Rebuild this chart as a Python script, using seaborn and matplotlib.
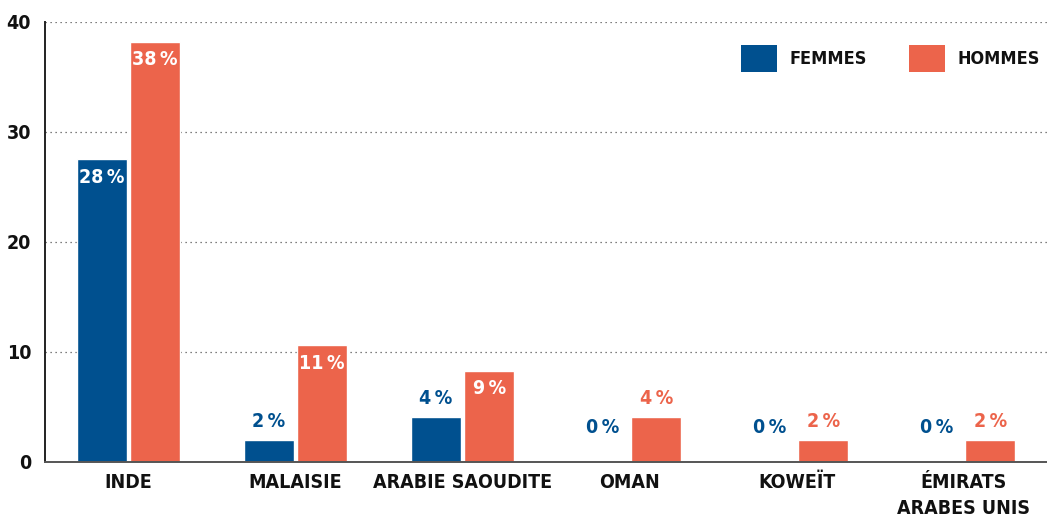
import matplotlib
matplotlib.use("Agg")
import matplotlib.pyplot as plt
from matplotlib import font_manager
from matplotlib.patches import Patch
import seaborn as sns
import pandas as pd

# Données
pays = ["INDE", "MALAISIE", "ARABIE SAOUDITE", "OMAN", "KOWEÏT", "ÉMIRATS\nARABES UNIS"]
femmes = [27.5, 2.0, 4.1, 0.0, 0.0, 0.0]
hommes = [38.2, 10.6, 8.3, 4.1, 2.0, 2.0]
etiq_femmes = ["28\u2009%", "2\u2009%", "4\u2009%", "0\u2009%", "0\u2009%", "0\u2009%"]
etiq_hommes = ["38\u2009%", "11\u2009%", "9\u2009%", "4\u2009%", "2\u2009%", "2\u2009%"]
series = ["FEMMES", "HOMMES"]
couleurs = {"FEMMES": "#00508F", "HOMMES": "#EC644B"}

df = pd.DataFrame(
    {
        "pays": pays * 2,
        "valeur": femmes + hommes,
        "sexe": [series[0]] * len(pays) + [series[1]] * len(pays),
    }
)

sns.set_theme(style="white")

# police étroite et grasse si disponible (fichier direct)
cond = None
for f in font_manager.fontManager.ttflist:
    nm = (f.name + " " + f.fname).lower()
    if ("condensed" in nm or "narrow" in nm) and ("bold" in f.fname.lower()) and "oblique" not in f.fname.lower() \
            and "italic" not in f.fname.lower():
        cond = f
        break
if cond is not None:
    base_fp = font_manager.FontProperties(fname=cond.fname)
    scale = 1.0
else:
    base_fp = font_manager.FontProperties(family="DejaVu Sans", weight="bold")
    scale = 0.85


def fprop(size):
    p = base_fp.copy()
    p.set_size(size)
    return p


fs_lab = 14 * scale
fs_tick = 14 * scale
fs_leg = 13 * scale

fig = plt.figure(figsize=(10.47, 5.22), dpi=100)
ax = fig.add_axes([0.043, 0.115, 0.957, 0.843])

sns.barplot(
    data=df, x="pays", y="valeur", hue="sexe", palette=couleurs,
    width=0.64, gap=0.055, saturation=1, ax=ax, legend=False,
)

ax.set_xlim(-0.5, 5.5)
ax.set_ylim(0, 40)
ax.set_yticks([0, 10, 20, 30, 40])
ax.set_xlabel("")
ax.set_ylabel("")

for y in [10, 20, 30, 40]:
    ax.axhline(y, color="#555555", linestyle=(0, (1, 3)), linewidth=0.9, zorder=0)

for s in ["top", "right"]:
    ax.spines[s].set_visible(False)
ax.spines["left"].set_color("#222222")
ax.spines["left"].set_linewidth(1.4)
ax.spines["bottom"].set_color("#555555")
ax.spines["bottom"].set_linewidth(1.4)

ax.tick_params(axis="y", length=0, pad=10)
ax.tick_params(axis="x", which="major", length=0, pad=8)
ax.set_xticks([i + 0.5 for i in range(len(pays))], minor=True)
ax.tick_params(axis="x", which="minor", direction="in", length=9, width=1.4, color="#555555")
for lab in ax.get_xticklabels() + ax.get_yticklabels():
    lab.set_fontproperties(fprop(fs_tick))
    lab.set_color("#111111")
for lab in ax.get_xticklabels():
    lab.set_verticalalignment("top")
    lab.set_linespacing(1.45)

# Étiquettes des barres
for cont, etiq, nom in zip(ax.containers, [etiq_femmes, etiq_hommes], series):
    for bar, txt in zip(cont, etiq):
        h = bar.get_height()
        xc = bar.get_x() + bar.get_width() / 2
        if h > 6:
            y0, dy, col = h, -13, "white"
        elif h < 0.5:
            y0, dy, col = 0, 25, couleurs[nom]
        else:
            y0, dy, col = h, 13, couleurs[nom]
        ax.annotate(txt, (xc, y0), xytext=(0, dy), textcoords="offset points",
                    ha="center", va="center", color=col, fontproperties=fprop(fs_lab))

handles = [Patch(facecolor=couleurs[s], edgecolor="none") for s in series]
leg = ax.legend(handles, series, ncol=2, frameon=False, loc="upper right",
                bbox_to_anchor=(1.0, 0.965), prop=fprop(fs_leg), handlelength=2.0, handleheight=2.0,
                handletextpad=0.7, columnspacing=2.3, borderaxespad=0)
for t in leg.get_texts():
    t.set_color("#111111")

fig.savefig("out.png", dpi=100)
